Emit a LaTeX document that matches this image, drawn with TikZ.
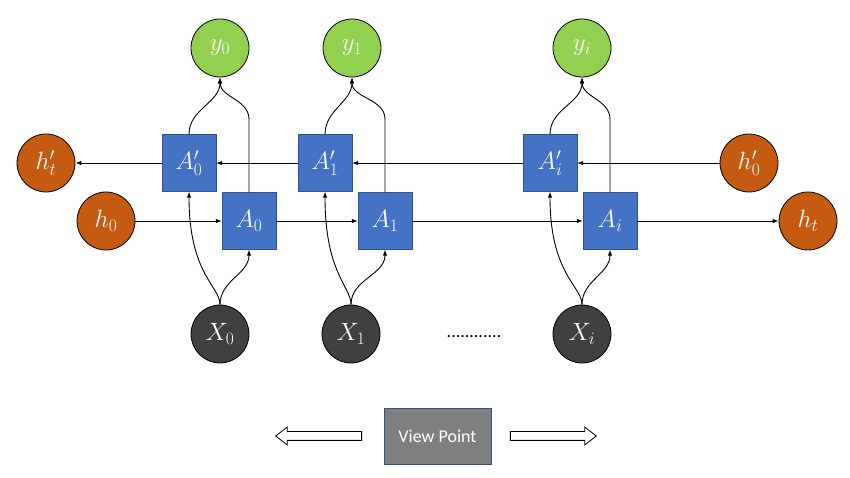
\RequirePackage{fix-cm}
\documentclass[tikz,border=0pt]{standalone}
\usepackage{fontspec}
\newfontfamily\vpfont{Carlito}
\usetikzlibrary{arrows.meta,shapes.arrows}
\definecolor{cellblue}{HTML}{4472C4}
\definecolor{cellborder}{HTML}{2F528F}
\definecolor{statered}{HTML}{C55A11}
\definecolor{outgreen}{HTML}{92D050}
\definecolor{ingray}{HTML}{404040}
\definecolor{vpgray}{HTML}{7F7F7F}
\newcommand\symfont{\fontsize{25}{29}\selectfont}
\begin{document}
\begin{tikzpicture}[x=1pt,y=1pt,>={Latex[length=6pt,width=4.5pt]},
    cell/.style={draw=cellborder,fill=cellblue,text=white,minimum width=54pt,minimum height=57pt,inner sep=0pt,font=\symfont},
    state/.style={circle,draw=black,line width=0.8pt,fill=statered,text=white,minimum size=58pt,inner sep=0pt,font=\symfont},
    output/.style={state,fill=outgreen},
    input/.style={state,fill=ingray},
    hollow/.style={single arrow,draw=black,fill=white,line width=0.8pt,minimum height=86pt,minimum width=17pt,single arrow head extend=4.5pt,single arrow tip angle=75,inner xsep=0pt,inner ysep=4pt,outer sep=0pt}]
      \useasboundingbox (0,0) rectangle (850,478);
      \draw
        (220,430) node[output] (y0){$y_0$}
        (352,430) node[output] (y1){$y_1$}
        (582,430) node[output] (yi){$y_i$}
        (189,315) node[cell] (b0){$A'_0$}
        (325,315) node[cell] (b1){$A'_1$}
        (550,315) node[cell] (bi){$A'_i$}
        (249,257) node[cell] (a0){$A_0$}
        (385,257) node[cell] (a1){$A_1$}
        (610,257) node[cell] (ai){$A_i$}
        (220,144) node[input] (x0){$X_0$}
        (351,144) node[input] (x1){$X_1$}
        (582,144) node[input] (xi){$X_i$}
        (46,315) node[state] (hpt){$h'_t$}
        (106,257) node[state] (h0){$h_0$}
        (749,315) node[state] (hp0){$h'_0$}
        (808,257) node[state] (ht){$h_t$}
        (474,141) node[font=\vpfont\fontsize{18}{20}\selectfont] (dots){............};
      \node[draw=cellborder,fill=vpgray,minimum width=107pt,minimum height=56pt,text=white,font=\vpfont\fontsize{18}{21}\selectfont] (vp) at (437.5,42) {View Point};
      \node[hollow,shape border rotate=180] (left) at (321.5,42) {};
      \node[hollow] (right) at (550.5,42) {};
      \begin{scope}[->,line width=0.9pt]
        \draw (hp0) to (bi);
        \draw (bi) to (b1);
        \draw (b1) to (b0);
        \draw (b0) to (hpt);
        \draw (h0) to (a0);
        \draw (a0) to (a1);
        \draw (a1) to (ai);
        \draw (ai) to (ht);
        \draw (b0.north) to[out=90,in=-90] (y0.south);
        \draw (b1.north) to[out=90,in=-90] (y1.south);
        \draw (bi.north) to[out=90,in=-90] (yi.south);
        \draw (a0.north) -- ++(0,73) to[out=90,in=-90] (y0.south);
        \draw (a1.north) -- ++(0,73) to[out=90,in=-90] (y1.south);
        \draw (ai.north) -- ++(0,73) to[out=90,in=-90] (yi.south);
        \draw (x0.north) to[out=90,in=-90,out looseness=0.4,in looseness=1.8] (b0.south);
        \draw (x1.north) to[out=90,in=-90,out looseness=0.4,in looseness=1.8] (b1.south);
        \draw (xi.north) to[out=90,in=-90,out looseness=0.4,in looseness=1.8] (bi.south);
        \draw (x0.north) to[out=90,in=-90] (a0.south);
        \draw (x1.north) to[out=90,in=-90] (a1.south);
        \draw (xi.north) to[out=90,in=-90] (ai.south);
      \end{scope}
    \end{tikzpicture}
\end{document}
